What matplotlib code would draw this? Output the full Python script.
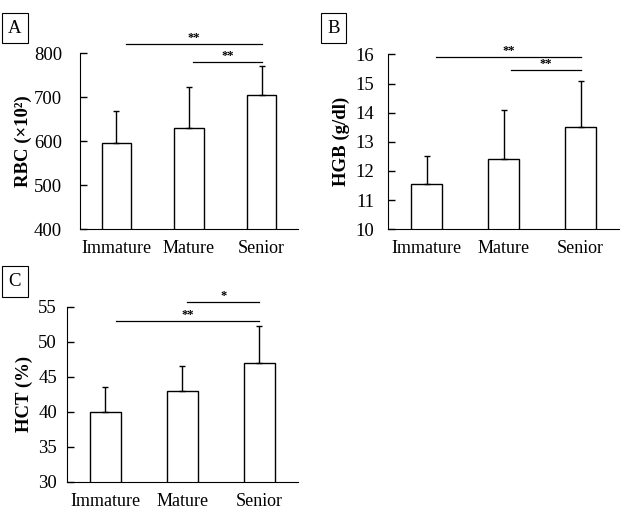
import matplotlib.pyplot as plt
import matplotlib as mpl
import numpy as np

mpl.rcParams['font.family'] = ['Liberation Serif', 'DejaVu Serif']
mpl.rcParams['font.size'] = 13

groups = ["Immature", "Mature", "Senior"]

rbc_mean = [595, 630, 705]
rbc_sd = [73, 93, 66]

hgb_mean = [11.55, 12.42, 13.52]
hgb_sd = [0.97, 1.68, 1.55]

hct_mean = [39.9, 42.9, 47.0]
hct_sd = [3.6, 3.6, 5.2]

# significance brackets: (x start, x end, height, label)
rbc_sig = [(0.14, 2.0, 821, "**"), (1.06, 2.0, 781, "**")]
hgb_sig = [(0.12, 2.0, 15.9, "**"), (1.10, 2.0, 15.46, "**")]
hct_sig = [(1.06, 2.0, 55.6, "*"), (0.14, 2.0, 53.0, "**")]

fig = plt.figure(figsize=(6.21, 5.2), dpi=100)


def panel(rect, means, sds, ylim, yticks, ylabel, sig, letter, box_xy, ypad):
    ax = fig.add_axes(rect)
    x = np.arange(len(groups))
    ax.bar(x, means, width=0.4, color='white', edgecolor='black', linewidth=1.0)
    ax.errorbar(x, means, yerr=[np.zeros(len(sds)), sds], fmt='none',
                ecolor='black', elinewidth=1.0, capsize=2, capthick=1.0)
    ax.set_xlim(-0.5, 2.5)
    ax.set_ylim(*ylim)
    ax.set_yticks(yticks)
    ax.set_xticks(x)
    ax.set_xticklabels(groups, fontsize=13)
    ax.tick_params(axis='x', length=0, pad=8)
    ax.tick_params(axis='y', direction='in', length=5, width=1, labelsize=13.5, pad=ypad)
    ax.spines['top'].set_visible(False)
    ax.spines['right'].set_visible(False)
    ax.set_ylabel(ylabel, fontweight='bold', fontsize=13.5)
    for x0, x1, h, lab in sig:
        ax.plot([x0, x1], [h, h], color='black', lw=0.9, clip_on=False)
        ax.text((x0 + x1) / 2, h, lab, ha='center', va='bottom', fontsize=9,
                fontweight='bold', clip_on=False)
    fig.text(box_xy[0], box_xy[1], letter, fontsize=13.5, ha='center', va='center',
             bbox=dict(boxstyle='square,pad=0.35', fc='white', ec='black', lw=0.8))
    return ax


axA = panel([0.1288, 0.5596, 0.351, 0.338], rbc_mean, rbc_sd, (400, 800),
            [400, 500, 600, 700, 800], "RBC (×10²)", rbc_sig, "A", (0.024, 0.946), 13)
axA.yaxis.set_label_coords(-0.22, 0.5)

axB = panel([0.6253, 0.559, 0.3715, 0.3365], hgb_mean, hgb_sd, (10, 16),
            [10, 11, 12, 13, 14, 15, 16], "HGB (g/dl)", hgb_sig, "B", (0.537, 0.946), 10)
axB.yaxis.set_label_coords(-0.166, 0.5)

axC = panel([0.1074, 0.0737, 0.3725, 0.3366], hct_mean, hct_sd, (30, 55),
            [30, 35, 40, 45, 50, 55], "HCT (%)", hct_sig, "C", (0.024, 0.4587), 7)
axC.yaxis.set_label_coords(-0.146, 0.5)

fig.savefig("out.png", dpi=100)
